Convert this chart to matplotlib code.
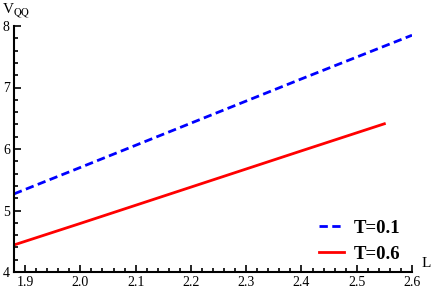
import matplotlib.pyplot as plt
from matplotlib.ticker import MultipleLocator

plt.rcParams['font.family'] = ['Liberation Serif', 'DejaVu Serif']
plt.rcParams['mathtext.fontset'] = 'stix'

# values
L_t01 = [1.88, 2.0, 2.2, 2.4, 2.6]
V_t01 = [5.27, 5.70, 6.42, 7.14, 7.85]
L_t06 = [1.88, 2.0, 2.2, 2.4, 2.55]
V_t06 = [4.44, 4.79, 5.38, 5.97, 6.41]

fig = plt.figure(figsize=(4.36, 2.94), dpi=100)
ax = fig.add_axes([14 / 436, 22 / 294, 398 / 436, 246 / 294])

ax.plot(L_t01, V_t01, color='blue', linestyle=(0, (3, 1.6)), linewidth=2, label='T=0.1')
ax.plot(L_t06, V_t06, color='red', linewidth=2, label='T=0.6')

ax.set_xlim(1.88, 2.6)
ax.set_ylim(4, 8)
ax.xaxis.set_major_locator(MultipleLocator(0.1))
ax.xaxis.set_minor_locator(MultipleLocator(0.02))
ax.yaxis.set_major_locator(MultipleLocator(1))
ax.yaxis.set_minor_locator(MultipleLocator(0.2))
ax.tick_params(which='both', direction='in', width=1.2, labelsize=10, pad=3)
ax.tick_params(which='major', length=5)
ax.tick_params(which='minor', length=3)

for s in ['top', 'right']:
    ax.spines[s].set_visible(False)
for s in ['left', 'bottom']:
    ax.spines[s].set_linewidth(1.5)

ax.text(-0.03, 1.02, r'V$_{\mathrm{QQ}}$', transform=ax.transAxes, ha='left', va='bottom',
        fontsize=11)
ax.text(1.025, 0.01, 'L', transform=ax.transAxes, ha='left', va='bottom', fontsize=11)

leg = ax.legend(loc='lower right', frameon=False, prop={'weight': 'bold', 'size': 13.5},
                handlelength=1.35, handletextpad=0.5, labelspacing=0.45,
                bbox_to_anchor=(1.012, -0.03))

fig.savefig('out.png', dpi=100)
